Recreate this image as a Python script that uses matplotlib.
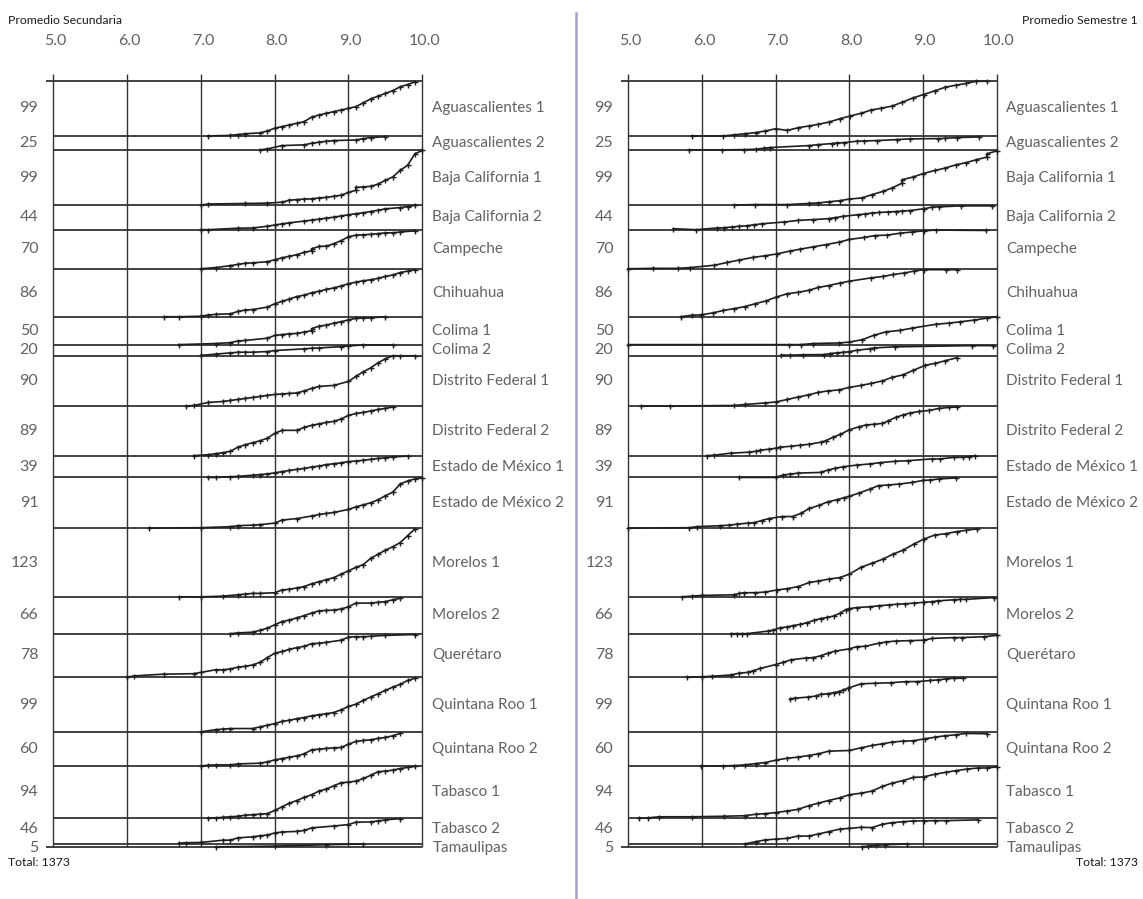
import matplotlib
matplotlib.use("Agg")
import matplotlib.pyplot as plt
from matplotlib.lines import Line2D

# ---------------- data ----------------
states = ["Aguascalientes 1", "Aguascalientes 2", "Baja California 1", "Baja California 2",
          "Campeche", "Chihuahua", "Colima 1", "Colima 2", "Distrito Federal 1",
          "Distrito Federal 2", "Estado de México 1", "Estado de México 2", "Morelos 1",
          "Morelos 2", "Querétaro", "Quintana Roo 1", "Quintana Roo 2", "Tabasco 1",
          "Tabasco 2", "Tamaulipas"]
counts = [99, 25, 99, 44, 70, 86, 50, 20, 90, 89, 39, 91, 123, 66, 78, 99, 60, 94, 46, 5]
total_label = "Total: 1373"
x_ticks = [5.0, 6.0, 7.0, 8.0, 9.0, 10.0]
titles = ["Promedio Secundaria", "Promedio Semestre 1"]

# grade of each marker and cumulative share of the group (0 = band bottom, 1 = band top)
sec_grades = [
    [7.1,7.4,7.5,7.6,7.8,7.9,8.0,8.1,8.2,8.3,8.4,8.5,8.6,8.7,8.8,8.9,9.0,9.1,9.2,9.3,9.4,9.5,9.6,9.7,9.8,9.9],
    [7.8,7.9,8.1,8.4,8.5,8.6,8.7,8.8,9.1,9.2,9.3,9.5],
    [7.0,7.1,7.6,7.9,8.1,8.2,8.3,8.4,8.5,8.6,8.7,8.8,8.9,9.0,9.1,9.1,9.2,9.3,9.4,9.5,9.6,9.7,9.8,9.9,10.0],
    [7.0,7.1,7.5,7.7,7.9,8.0,8.1,8.2,8.4,8.5,8.6,8.7,8.8,8.9,9.0,9.1,9.2,9.3,9.4,9.5,9.7,9.8,9.9],
    [7.0,7.2,7.4,7.5,7.6,7.7,7.9,8.0,8.1,8.2,8.3,8.4,8.5,8.5,8.6,8.7,8.8,8.9,9.0,9.1,9.2,9.3,9.4,9.5,9.6,9.7,9.9],
    [6.5,6.7,7.0,7.1,7.2,7.4,7.5,7.6,7.7,7.9,8.0,8.1,8.2,8.3,8.4,8.5,8.6,8.7,8.8,8.9,9.0,9.1,9.2,9.3,9.4,9.5,9.6,9.7,9.8,9.9],
    [6.7,7.2,7.4,7.5,7.6,7.9,8.0,8.1,8.2,8.3,8.4,8.5,8.5,8.6,8.7,8.8,8.9,9.0,9.1,9.2,9.3,9.5],
    [7.0,7.2,7.4,7.5,7.6,7.7,7.9,8.0,8.4,8.5,8.6,8.9,9.0,9.2,9.6],
    [6.8,6.9,7.1,7.3,7.4,7.5,7.6,7.7,7.8,7.9,8.0,8.1,8.2,8.3,8.4,8.5,8.6,8.8,9.0,9.1,9.2,9.3,9.4,9.5,9.6,9.7,9.9],
    [6.9,7.1,7.2,7.3,7.4,7.5,7.6,7.7,7.8,7.9,8.0,8.1,8.3,8.4,8.5,8.6,8.7,8.8,8.9,9.0,9.1,9.2,9.3,9.4,9.5,9.6],
    [7.1,7.2,7.4,7.5,7.7,7.8,7.9,8.0,8.1,8.2,8.3,8.4,8.5,8.6,8.7,8.8,8.9,9.0,9.1,9.2,9.3,9.4,9.5,9.6,9.8],
    [6.3,7.0,7.4,7.5,7.7,7.8,8.0,8.1,8.3,8.5,8.6,8.7,8.8,9.0,9.1,9.2,9.3,9.4,9.5,9.6,9.7,9.8,9.9,10.0],
    [6.7,7.0,7.3,7.5,7.6,7.7,7.8,8.0,8.1,8.2,8.3,8.4,8.5,8.6,8.7,8.8,8.9,9.0,9.1,9.2,9.3,9.4,9.5,9.6,9.7,9.8,9.9],
    [7.4,7.5,7.7,7.8,7.9,8.0,8.1,8.2,8.3,8.4,8.5,8.6,8.7,8.8,8.9,9.0,9.1,9.3,9.4,9.5,9.6,9.7],
    [6.0,6.1,6.5,6.9,7.0,7.2,7.3,7.4,7.5,7.6,7.7,7.8,7.9,8.0,8.1,8.2,8.3,8.4,8.5,8.6,8.7,8.9,9.0,9.1,9.2,9.3,9.5,9.9],
    [7.0,7.2,7.3,7.4,7.7,7.8,7.9,8.0,8.1,8.2,8.3,8.4,8.5,8.6,8.7,8.8,8.9,9.0,9.1,9.2,9.3,9.4,9.5,9.6,9.7,9.8,9.9],
    [7.0,7.1,7.2,7.4,7.5,7.8,7.9,8.0,8.1,8.2,8.3,8.4,8.5,8.6,8.7,8.8,8.9,9.0,9.1,9.2,9.3,9.4,9.5,9.6,9.7],
    [7.1,7.2,7.3,7.4,7.5,7.6,7.7,7.8,7.9,8.0,8.1,8.2,8.3,8.4,8.5,8.6,8.7,8.8,8.9,9.0,9.1,9.2,9.3,9.4,9.5,9.6,9.7,9.8,9.9],
    [6.7,6.8,7.0,7.3,7.4,7.5,7.7,7.8,7.9,8.0,8.1,8.3,8.4,8.5,8.8,9.0,9.1,9.3,9.4,9.5,9.7],
    [7.2,8.0,8.7,9.2],
]
sec_share = [
    [0,0.01,0.025,0.04,0.055,0.09,0.14,0.17,0.2,0.23,0.26,0.34,0.38,0.41,0.44,0.47,0.5,0.53,0.6,0.67,0.72,0.77,0.82,0.89,0.93,0.98],
    [0,0.07,0.31,0.36,0.48,0.55,0.62,0.67,0.71,0.81,0.88,0.95],
    [0,0.02,0.03,0.036,0.054,0.09,0.1,0.11,0.114,0.13,0.14,0.16,0.18,0.23,0.27,0.32,0.33,0.34,0.38,0.45,0.51,0.63,0.72,0.93,0.99],
    [0,0,0.06,0.07,0.14,0.19,0.24,0.28,0.35,0.39,0.43,0.47,0.51,0.56,0.61,0.65,0.69,0.74,0.79,0.85,0.9,0.94,0.99],
    [0,0.03,0.08,0.11,0.14,0.15,0.18,0.23,0.28,0.32,0.36,0.42,0.46,0.51,0.57,0.58,0.64,0.72,0.82,0.86,0.87,0.88,0.9,0.92,0.92,0.94,0.97],
    [0,0,0.01,0.035,0.05,0.06,0.11,0.14,0.15,0.2,0.27,0.32,0.37,0.42,0.45,0.5,0.53,0.57,0.6,0.64,0.69,0.72,0.75,0.77,0.8,0.84,0.87,0.92,0.95,0.98],
    [0,0.04,0.07,0.13,0.15,0.23,0.33,0.36,0.39,0.4,0.45,0.5,0.57,0.66,0.7,0.77,0.82,0.89,0.94,0.95,0.96,1.0],
    [0.03,0.15,0.26,0.32,0.32,0.32,0.38,0.47,0.62,0.68,0.7,0.82,0.88,0.97,0.97],
    [0,0.01,0.07,0.09,0.11,0.13,0.15,0.17,0.19,0.21,0.23,0.24,0.25,0.26,0.3,0.35,0.39,0.41,0.49,0.59,0.68,0.76,0.86,0.94,1.0,1.0,1.0],
    [0,0.02,0.04,0.06,0.09,0.17,0.22,0.26,0.3,0.35,0.45,0.51,0.51,0.57,0.61,0.64,0.67,0.69,0.74,0.81,0.85,0.87,0.9,0.93,0.95,0.98],
    [0,0,0.03,0.05,0.1,0.13,0.16,0.21,0.27,0.32,0.37,0.41,0.48,0.52,0.59,0.63,0.67,0.73,0.75,0.79,0.83,0.87,0.9,0.94,0.98],
    [0,0.01,0.03,0.05,0.06,0.07,0.1,0.16,0.19,0.24,0.27,0.29,0.31,0.37,0.42,0.46,0.5,0.56,0.64,0.71,0.87,0.93,0.97,0.99],
    [0,0,0.01,0.03,0.04,0.05,0.05,0.06,0.1,0.11,0.13,0.15,0.19,0.22,0.25,0.28,0.33,0.38,0.43,0.47,0.56,0.62,0.68,0.73,0.79,0.89,0.99],
    [0,0.02,0.04,0.09,0.15,0.24,0.33,0.37,0.43,0.49,0.56,0.62,0.63,0.64,0.67,0.73,0.83,0.83,0.85,0.87,0.92,0.96],
    [0,0.03,0.07,0.08,0.11,0.17,0.17,0.19,0.23,0.25,0.28,0.34,0.45,0.55,0.59,0.64,0.68,0.71,0.77,0.78,0.8,0.85,0.92,0.93,0.93,0.94,0.96,0.98],
    [0.01,0.05,0.06,0.07,0.07,0.1,0.13,0.16,0.2,0.22,0.25,0.27,0.3,0.32,0.34,0.36,0.41,0.47,0.51,0.58,0.64,0.7,0.76,0.82,0.87,0.94,0.98],
    [0,0.02,0.03,0.03,0.06,0.08,0.12,0.18,0.22,0.26,0.3,0.36,0.48,0.5,0.52,0.54,0.55,0.65,0.73,0.76,0.78,0.82,0.85,0.9,0.97],
    [0,0.01,0.02,0.03,0.04,0.06,0.07,0.08,0.09,0.15,0.22,0.29,0.34,0.4,0.45,0.52,0.56,0.62,0.68,0.69,0.71,0.76,0.82,0.89,0.9,0.92,0.95,0.97,0.99],
    [0.03,0.05,0.06,0.15,0.15,0.24,0.28,0.32,0.35,0.43,0.47,0.49,0.53,0.63,0.7,0.76,0.85,0.86,0.9,0.94,0.99],
    [0,0.25,0.75,1.0],
]
sem_grades = [
    [5.86,6.29,6.44,6.58,6.73,6.86,7.0,7.16,7.31,7.45,7.58,7.72,7.87,8.01,8.16,8.3,8.43,8.58,8.72,8.87,9.01,9.17,9.3,9.45,9.59,9.72,9.87],
    [5.82,6.27,6.57,6.74,6.84,6.93,7.46,7.58,7.76,7.83,7.93,8.1,8.2,8.38,8.65,8.83,9.2,9.3,9.47,9.76],
    [6.44,6.72,7.16,7.45,7.58,7.72,7.87,8.0,8.17,8.31,8.46,8.58,8.72,8.72,8.87,9.0,9.17,9.3,9.45,9.59,9.72,9.87,9.87,10.0],
    [5.61,5.92,6.21,6.3,6.41,6.51,6.61,6.71,6.81,7.11,7.31,7.51,7.72,7.81,7.91,8.12,8.22,8.31,8.41,8.52,8.63,8.72,8.82,9.01,9.13,9.22,9.52,9.94],
    [5.0,5.33,5.68,5.84,6.17,6.34,6.5,6.69,6.85,7.02,7.19,7.33,7.51,7.69,7.86,8.0,8.2,8.35,8.51,8.69,8.85,9.01,9.18,9.86],
    [5.71,5.86,5.99,6.15,6.29,6.44,6.58,6.72,6.87,7.01,7.16,7.31,7.45,7.58,7.72,7.87,8.0,8.3,8.46,8.6,8.74,8.88,9.01,9.31,9.46],
    [5.0,7.18,7.34,7.51,7.86,8.0,8.18,8.33,8.5,8.69,8.85,9.18,9.35,9.51,9.7,9.87,10.0],
    [7.08,7.2,7.37,7.66,7.74,7.83,7.92,8.0,8.1,8.28,8.34,8.62,9.67,9.95],
    [5.17,5.57,6.44,6.58,6.85,7.0,7.16,7.31,7.44,7.58,7.71,7.86,8.0,8.16,8.3,8.45,8.58,8.73,8.87,9.03,9.17,9.3,9.46],
    [6.07,6.17,6.39,6.64,6.74,6.79,6.91,7.0,7.06,7.21,7.33,7.46,7.61,7.68,7.78,7.88,8.0,8.13,8.23,8.33,8.45,8.53,8.63,8.73,8.83,8.95,9.08,9.22,9.35,9.46],
    [6.5,7.0,7.1,7.19,7.31,7.61,7.71,7.81,7.92,8.11,8.28,8.42,8.62,8.8,9.12,9.23,9.42,9.55,9.62,9.71],
    [5.0,5.83,5.93,6.25,6.37,6.48,6.62,6.71,6.81,6.91,7.09,7.23,7.34,7.46,7.59,7.71,7.83,7.93,8.0,8.13,8.28,8.4,8.53,8.68,8.85,9.0,9.1,9.22,9.45],
    [5.73,5.86,6.0,6.43,6.51,6.57,6.72,6.86,7.02,7.16,7.31,7.46,7.58,7.73,7.87,8.0,8.16,8.31,8.46,8.59,8.73,8.88,9.01,9.16,9.31,9.46,9.59,9.73],
    [6.4,6.47,6.54,6.61,6.9,6.97,7.06,7.15,7.24,7.33,7.43,7.52,7.61,7.7,7.79,7.88,7.95,8.0,8.11,8.28,8.41,8.54,8.65,8.76,8.88,9.01,9.13,9.2,9.42,9.5,9.58,9.96],
    [5.8,6.0,6.13,6.39,6.5,6.62,6.7,6.79,7.0,7.1,7.21,7.41,7.51,7.61,7.71,7.81,8.0,8.1,8.22,8.4,8.5,8.63,8.83,9.01,9.12,9.42,9.53,9.83,10.0],
    [7.2,7.27,7.44,7.55,7.61,7.71,7.79,7.86,7.92,7.98,8.16,8.35,8.57,8.77,8.92,9.1,9.2,9.32,9.42,9.55],
    [5.99,6.29,6.44,6.58,6.73,6.86,7.0,7.16,7.3,7.45,7.58,7.72,8.0,8.16,8.31,8.45,8.58,8.73,8.87,9.03,9.17,9.3,9.45,9.59,9.87],
    [5.14,5.27,5.42,5.86,6.3,6.58,6.74,6.86,7.0,7.16,7.3,7.45,7.58,7.72,7.87,8.0,8.16,8.31,8.45,8.58,8.73,8.87,9.01,9.16,9.32,9.45,9.6,9.75,9.87,10.0],
    [6.58,6.73,6.86,7.0,7.16,7.3,7.45,7.58,7.72,7.87,8.0,8.16,8.31,8.45,8.58,8.73,8.87,9.01,9.16,9.31,9.75],
    [8.17,8.26,8.36,8.48,8.78],
]
sem_share = [
    [0,0,0.02,0.04,0.06,0.09,0.13,0.1,0.15,0.18,0.21,0.25,0.31,0.36,0.41,0.47,0.5,0.54,0.61,0.69,0.75,0.82,0.88,0.92,0.95,0.99,0.99],
    [0,0,0.02,0.05,0.12,0.17,0.31,0.38,0.45,0.5,0.52,0.62,0.64,0.67,0.74,0.79,0.81,0.83,0.88,0.93],
    [0,0.01,0.01,0.03,0.04,0.06,0.08,0.11,0.13,0.19,0.25,0.31,0.4,0.46,0.51,0.57,0.63,0.67,0.73,0.77,0.82,0.87,0.93,0.98],
    [0.04,0,0.07,0.08,0.11,0.14,0.16,0.2,0.24,0.31,0.38,0.41,0.45,0.49,0.54,0.61,0.64,0.68,0.7,0.72,0.74,0.76,0.78,0.85,0.92,0.93,0.97,0.97],
    [0,0.01,0.01,0.03,0.09,0.16,0.22,0.29,0.33,0.38,0.45,0.5,0.56,0.62,0.68,0.75,0.8,0.85,0.86,0.91,0.94,0.97,0.99,0.98],
    [0,0.03,0.04,0.08,0.13,0.17,0.21,0.27,0.33,0.41,0.48,0.51,0.55,0.61,0.65,0.7,0.74,0.81,0.84,0.88,0.91,0.95,0.98,0.98,0.98],
    [0,0,0,0.04,0.06,0.09,0.18,0.33,0.46,0.51,0.59,0.73,0.77,0.82,0.88,0.95,1.0],
    [0.06,0.06,0.09,0.11,0.2,0.26,0.31,0.37,0.49,0.63,0.71,0.8,0.91,0.91],
    [0,0,0.01,0.03,0.06,0.08,0.13,0.18,0.22,0.27,0.3,0.32,0.37,0.41,0.45,0.5,0.57,0.62,0.71,0.81,0.85,0.9,0.96],
    [0,0.01,0.05,0.07,0.09,0.11,0.13,0.15,0.17,0.19,0.21,0.23,0.27,0.3,0.37,0.43,0.52,0.58,0.62,0.63,0.65,0.7,0.77,0.82,0.86,0.89,0.91,0.95,0.97,0.98],
    [0,0,0.11,0.15,0.2,0.23,0.34,0.42,0.49,0.57,0.62,0.68,0.74,0.77,0.85,0.85,0.92,0.92,0.95,1.0],
    [0,0.01,0.03,0.05,0.06,0.08,0.1,0.11,0.15,0.19,0.23,0.23,0.29,0.39,0.45,0.52,0.56,0.6,0.63,0.69,0.77,0.84,0.85,0.87,0.9,0.94,0.95,0.97,0.99],
    [0,0.01,0.02,0.03,0.05,0.06,0.06,0.07,0.1,0.12,0.15,0.21,0.23,0.26,0.28,0.33,0.43,0.49,0.55,0.62,0.68,0.77,0.84,0.9,0.92,0.95,0.97,0.99],
    [0,0,0,0,0.07,0.1,0.16,0.18,0.22,0.25,0.3,0.36,0.41,0.44,0.48,0.56,0.65,0.68,0.71,0.73,0.76,0.78,0.8,0.81,0.83,0.85,0.87,0.89,0.92,0.93,0.93,0.98],
    [0,0.01,0.02,0.05,0.09,0.11,0.15,0.2,0.29,0.34,0.4,0.44,0.45,0.49,0.55,0.6,0.65,0.7,0.71,0.78,0.81,0.83,0.84,0.85,0.89,0.91,0.91,0.93,0.96],
    [0.61,0.62,0.64,0.66,0.69,0.7,0.72,0.74,0.77,0.8,0.88,0.89,0.9,0.92,0.92,0.94,0.95,0.97,0.98,0.98],
    [0,0,0.01,0.03,0.07,0.1,0.17,0.23,0.26,0.31,0.36,0.44,0.46,0.54,0.61,0.66,0.71,0.74,0.75,0.81,0.86,0.9,0.93,0.97,0.96],
    [0,0.01,0.03,0.03,0.04,0.05,0.08,0.09,0.11,0.14,0.17,0.24,0.29,0.34,0.39,0.45,0.48,0.52,0.61,0.67,0.72,0.78,0.79,0.84,0.88,0.91,0.94,0.96,0.96,0.98],
    [0,0.09,0.16,0.19,0.22,0.31,0.31,0.39,0.48,0.58,0.61,0.65,0.64,0.77,0.83,0.87,0.9,0.9,0.91,0.91,0.94],
    [0,0.25,0.5,0.75,1.0],
]

# ---------------- styling / layout ----------------
W, H = 1143, 899
FONT = "Lato"
LINE_C = "#333333"
TEXT_C = "#626262"
LILAC = "#a89dce"

fig = plt.figure(figsize=(W / 100, H / 100), dpi=100)
fig.patch.set_facecolor("white")

y_top_px, y_bot_px = 80.7, 846.8
panels = [
    dict(x0=53.3, x1=422.3, grades=sec_grades, share=sec_share),
    dict(x0=628.3, x1=996.5, grades=sem_grades, share=sem_share),
]
total = sum(counts)
starts = [sum(counts[:i]) for i in range(len(counts))]

for p in panels:
    ax = fig.add_axes([p["x0"] / W, 1 - y_bot_px / H, (p["x1"] - p["x0"]) / W,
                       (y_bot_px - y_top_px) / H])
    ax.set_xlim(5, 10)
    ax.set_ylim(total, 0)
    ax.axis("off")
    upx = total / (y_bot_px - y_top_px)       # data units per pixel (vertical)
    xpx = 5.0 / (p["x1"] - p["x0"])            # data units per pixel (horizontal)

    # vertical grid lines (extend a little above)
    for xt in x_ticks:
        ax.plot([xt, xt], [-7 * upx, total], color=LINE_C, lw=1.0, clip_on=False,
                solid_capstyle="butt", zorder=1)
        ax.text(xt + 2 * xpx, -40 * upx, f"{xt:.1f}", ha="center", va="center",
                fontsize=11.5, family=FONT, color=TEXT_C)
    # horizontal band boundaries
    bounds = [0] + [s + c for s, c in zip(starts, counts)]
    for b in bounds:
        ax.plot([5, 10], [b, b], color=LINE_C, lw=1.3, clip_on=False, zorder=1,
                solid_capstyle="butt")
    for b in (0, total):
        ax.plot([5 - 7 * xpx, 5], [b, b], color=LINE_C, lw=1.3, clip_on=False,
                solid_capstyle="butt")

    # curves
    for s, c, g, sh in zip(starts, counts, p["grades"], p["share"]):
        ys = [s + c * (1 - v) for v in sh]
        ax.plot(g, ys, color="#1e1e1e", lw=1.2, marker="+", ms=3.6, mew=1.0,
                clip_on=False, zorder=3)

    # labels: centres, pushed apart where bands are thin
    centres = [s + c / 2 for s, c in zip(starts, counts)]
    centres[-1] += 2.5 * upx
    minsep = 19 * upx
    for i in range(len(centres) - 2, -1, -1):
        if centres[i] > centres[i + 1] - minsep:
            centres[i] = centres[i + 1] - minsep
    for cy, n, name in zip(centres, counts, states):
        ax.text(5 - 15 * xpx, cy, str(n), ha="right", va="center", fontsize=11.5,
                family=FONT, color=TEXT_C, clip_on=False)
        ax.text(10 + 10 * xpx, cy, name, ha="left", va="center", fontsize=11,
                family=FONT, color=TEXT_C, clip_on=False)

# titles and totals
for xx, ha, txt in ((8, "left", titles[0]), (1138, "right", titles[1])):
    fig.text(xx / W, 1 - 20 / H, txt, ha=ha, va="center", fontsize=8.8,
             family=FONT, color="#1a1a1a")
    fig.text(xx / W, 1 - 863 / H, total_label, ha=ha, va="center", fontsize=8.8,
             family=FONT, color="#1a1a1a")

# lilac separator
fig.add_artist(Line2D([575.5 / W, 575.5 / W], [1 - 13 / H, 0], color=LILAC, lw=1.8))

fig.savefig("out.png", dpi=100, facecolor="white")
